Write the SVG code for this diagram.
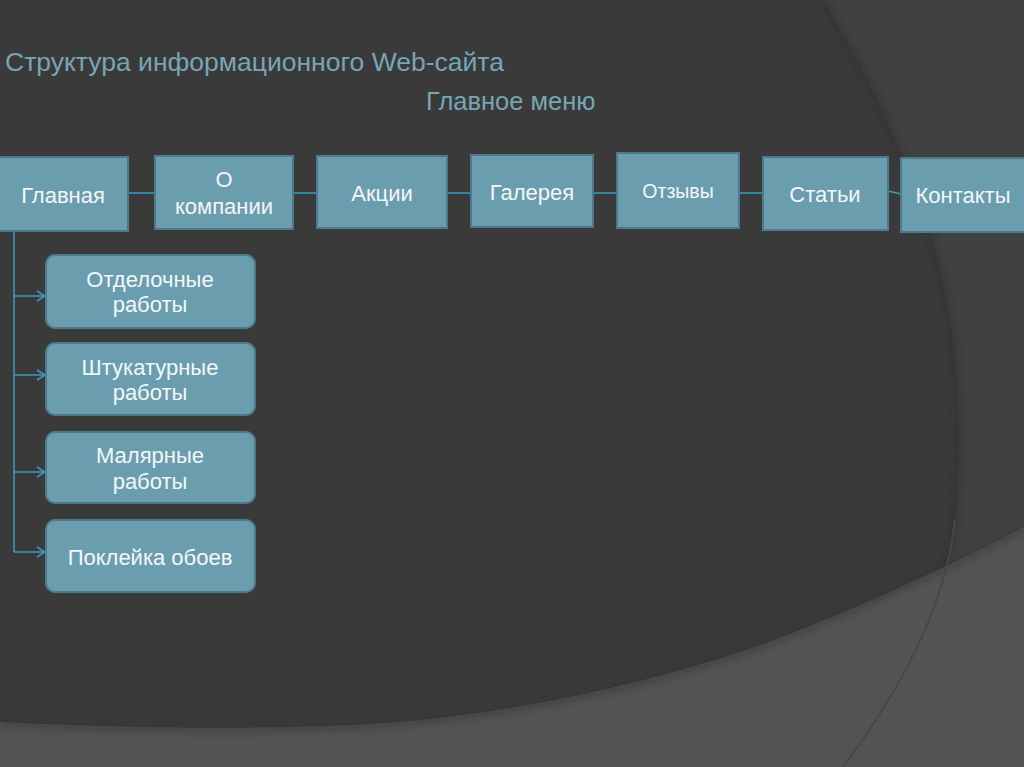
<svg xmlns="http://www.w3.org/2000/svg" width="1024" height="767" viewBox="0 0 1024 767">
<defs>
<style>
.box{fill:#6a9eaf;stroke:#4e7b8b;stroke-width:2}
.lbl{font-family:"Liberation Sans",Arial,sans-serif;font-size:22px;fill:#f4f6f7;text-anchor:middle}
.lbl.sm{font-size:19.5px}
.ttl{font-family:"Liberation Sans",Arial,sans-serif;fill:#78a5b5}
.con{stroke:#3a9cc2;stroke-width:1.5;fill:none}
</style>
<marker id="arr" markerWidth="12" markerHeight="12" refX="10" refY="6" orient="auto" markerUnits="userSpaceOnUse">
<path d="M2,1 L10,6 L2,11" fill="none" stroke="#3a9cc2" stroke-width="1.5"/>
</marker>
<filter id="sh" x="-10%" y="-10%" width="120%" height="120%"><feGaussianBlur stdDeviation="3"/></filter>
</defs>
<g id="background">
<rect width="1024" height="767" fill="#3a3a3a"/>
<path d="M823,0 C870,80 915,170 940,270 C960,350 962,450 955,520 C945,610 900,690 843,767 L1024,767 L1024,0 Z" fill="#414141"/>
<path d="M823,0 C870,80 915,170 940,270 C960,350 962,450 955,520 C945,610 900,690 843,767" fill="none" stroke="#2c2c2c" stroke-width="4" opacity="0.6" filter="url(#sh)"/>
<path d="M0,722 C120,728 300,732 420,720 C560,706 700,670 800,630 C900,590 970,555 1024,527 L1024,767 L0,767 Z" fill="#535353"/>
<path d="M0,724 C120,730 300,734 420,722 C560,708 700,672 800,632 C900,592 970,557 1024,529" fill="none" stroke="#2e2e2e" stroke-width="4" opacity="0.6" filter="url(#sh)"/>
<path d="M955,520 C945,610 900,690 843,767" fill="none" stroke="#474747" stroke-width="2"/>
</g>
<g id="title">
<text class="ttl" x="5" y="71" font-size="26.5">Структура  информационного Web-сайта</text>
<text class="ttl" x="426" y="110" font-size="25.5">Главное меню</text>
</g>
<g id="connectors">
<line class="con" x1="128" y1="193" x2="155" y2="193"/>
<line class="con" x1="293" y1="193" x2="317" y2="193"/>
<line class="con" x1="447" y1="193" x2="471" y2="193"/>
<line class="con" x1="593" y1="193" x2="617" y2="193"/>
<line class="con" x1="739" y1="193" x2="763" y2="193"/>
<line class="con" x1="888" y1="191" x2="901" y2="194"/>
<path class="con" d="M14,231 V552"/>
<path class="con" d="M14,296 H45" marker-end="url(#arr)"/>
<path class="con" d="M14,375 H45" marker-end="url(#arr)"/>
<path class="con" d="M14,472 H45" marker-end="url(#arr)"/>
<path class="con" d="M14,552 H45" marker-end="url(#arr)"/>
</g>
<g id="n-glavnaya"><rect class="box" x="-2" y="157" width="130" height="74"/><text class="lbl" x="63" y="203">Главная</text></g>
<g id="n-o-kompanii"><rect class="box" x="155" y="156" width="138" height="73"/><text class="lbl" x="224" y="187">О</text><text class="lbl" x="224" y="214">компании</text></g>
<g id="n-aktsii"><rect class="box" x="317" y="156" width="130" height="72"/><text class="lbl" x="382" y="201">Акции</text></g>
<g id="n-galereya"><rect class="box" x="471" y="155" width="122" height="72"/><text class="lbl" x="532" y="200">Галерея</text></g>
<g id="n-otzyvy"><rect class="box" x="617" y="153" width="122" height="75"/><text class="lbl sm" x="678" y="198">Отзывы</text></g>
<g id="n-stati"><rect class="box" x="763" y="157" width="125" height="73"/><text class="lbl" x="825" y="202">Статьи</text></g>
<g id="n-kontakty"><rect class="box" x="901" y="158" width="126" height="74"/><text class="lbl" x="963" y="203">Контакты</text></g>
<g id="n-otdelochnye"><rect class="box" x="46" y="255" width="209" height="73" rx="9"/><text class="lbl" x="150" y="287">Отделочные</text><text class="lbl" x="150" y="312">работы</text></g>
<g id="n-shtukaturnye"><rect class="box" x="46" y="343" width="209" height="72" rx="9"/><text class="lbl" x="150" y="375">Штукатурные</text><text class="lbl" x="150" y="400">работы</text></g>
<g id="n-malyarnye"><rect class="box" x="46" y="432" width="209" height="71" rx="9"/><text class="lbl" x="150" y="463">Малярные</text><text class="lbl" x="150" y="489">работы</text></g>
<g id="n-pokleyka"><rect class="box" x="46" y="520" width="209" height="72" rx="9"/><text class="lbl" x="150" y="565">Поклейка обоев</text></g>
</svg>
